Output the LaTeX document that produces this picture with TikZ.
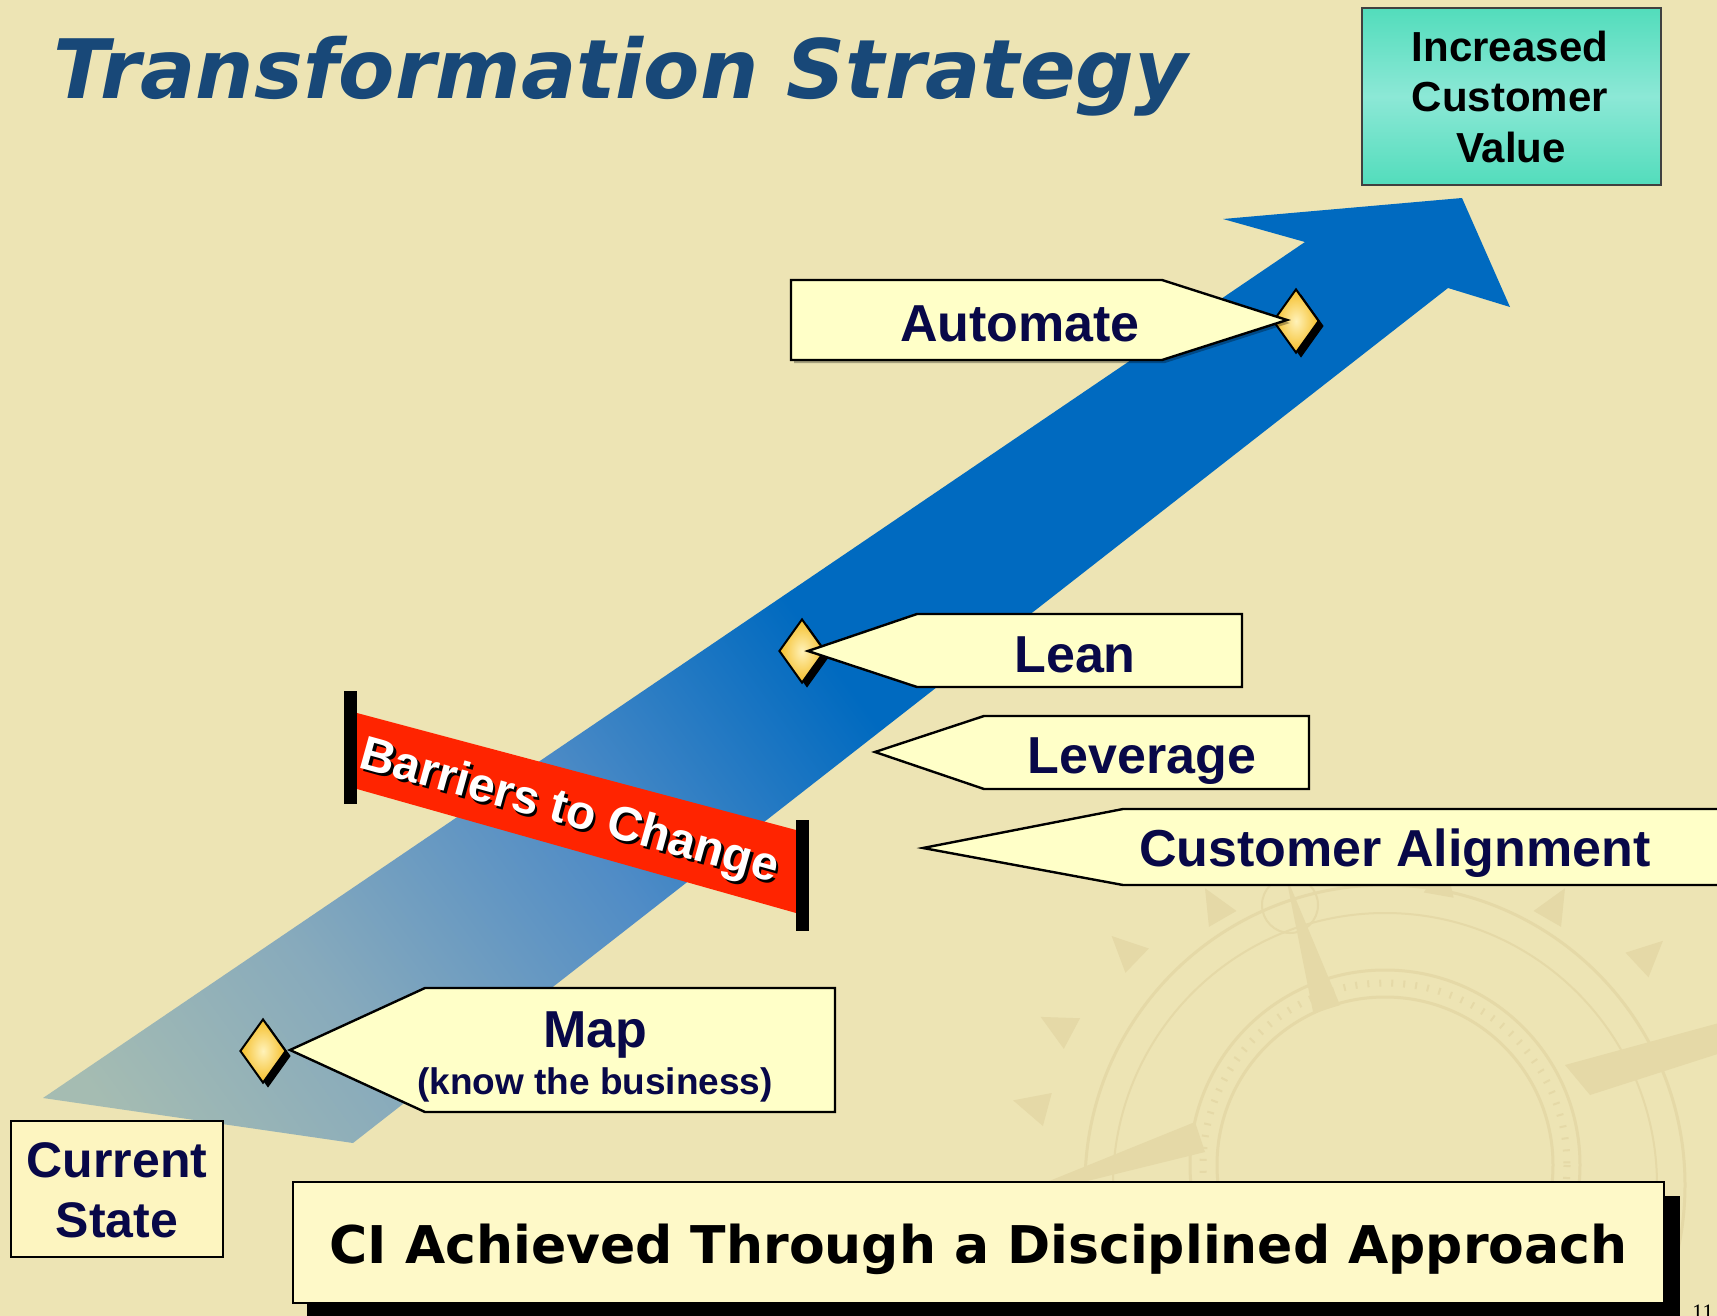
\documentclass[tikz,border=0pt]{standalone}
\usepackage{fontspec}
\setmainfont{Liberation Sans}
\newfontfamily\dejavu{DejaVu Sans}
\newfontfamily\libserif{Liberation Serif}
\usetikzlibrary{shapes.geometric,shadows}

\definecolor{bg}{RGB}{237,228,180}
\definecolor{compass}{RGB}{229,217,167}
\definecolor{navy}{RGB}{8,8,72}
\definecolor{titleblue}{RGB}{24,72,120}
\definecolor{callfill}{RGB}{255,255,200}
\definecolor{csfill}{RGB}{253,245,192}
\definecolor{cifill}{RGB}{254,249,200}
\definecolor{arrowblue}{RGB}{0,106,192}
\definecolor{shA}{RGB}{165,188,178}
\definecolor{shB}{RGB}{135,170,188}
\definecolor{shC}{RGB}{80,140,198}
\definecolor{barred}{RGB}{255,36,0}
\definecolor{tealdark}{RGB}{0,204,150}
\definecolor{teallight}{RGB}{140,232,214}
\definecolor{dmdark}{RGB}{245,190,40}
\definecolor{dmlight}{RGB}{255,242,185}

\pgfdeclareverticalshading{arrowshade}{100bp}{color(0bp)=(shA); color(18bp)=(shA); color(28bp)=(shB); color(40bp)=(shC); color(52bp)=(arrowblue); color(100bp)=(arrowblue)}
\pgfdeclareverticalshading{tealshade}{100bp}{color(0bp)=(tealdark); color(31bp)=(tealdark); color(50bp)=(teallight); color(69bp)=(tealdark); color(100bp)=(tealdark)}

\tikzset{
  callout/.style={fill=callfill, draw=black, line width=2.4pt, line join=miter},
  calloutshadow/.style={fill=black, opacity=0.3},
  lbl/.style={font=\fontsize{#1}{#1}\selectfont\bfseries, text=navy, inner sep=0pt, anchor=base},
  dmd/.style={diamond, minimum width=46pt, minimum height=64pt, inner sep=0pt,
    draw=black, line width=2pt, inner color=dmlight, outer color=dmdark,
    drop shadow={shadow xshift=5pt, shadow yshift=-5pt, fill=black, opacity=1}},
  boxnode/.style={draw=black, line width=2.4pt, inner sep=0pt},
  spike/.style={fill=compass},
}

\begin{document}
\begin{tikzpicture}[x=1pt,y=-1pt]
\useasboundingbox (0,0) rectangle (1717,1316);
\fill[bg] (0,0) rectangle (1717,1316);

% faint compass rose in the background
\begin{scope}[draw=compass]
  \draw[line width=3pt] (1385,1165) circle[radius=168];
  \draw[line width=3pt] (1385,1165) circle[radius=195];
  \draw[line width=7pt, dash pattern=on 2pt off 10pt] (1385,1165) circle[radius=182];
  \draw[line width=2pt] (1385,1185) circle[radius=272];
  \draw[line width=3pt] (1385,1185) circle[radius=300];
  \draw[line width=2pt] (1290,905) circle[radius=28];
\end{scope}
\begin{scope}[shift={(1385,1200)}]
  \foreach \a/\r in {43/345,60/325,80/310,120/325,136/345,152/355,165/350}{
    \fill[spike] (-\a:\r+35) -- (-\a-2.8:\r) -- (-\a+2.8:\r) -- cycle;
  }
  \fill[spike] (-107:340) -- (-103:200) -- (-111:200) -- cycle;
\end{scope}
\fill[compass] (1195,1122) -- (1205,1152) -- (990,1205) -- cycle;
\fill[compass] (1565,1065) -- (1590,1095) -- (1730,1050) -- (1730,1020) -- cycle;

% the big arrow
\shade[shading=arrowshade, shading angle=-54]
  (43,1098) -- (1305,242) -- (1223,219) -- (1462,198) -- (1510,307) -- (1448,288) -- (353,1143) -- cycle;

% milestone diamonds
\node[dmd] (dAuto) at (1296,321) {};
\node[dmd] (dLean) at (802,651) {};
\node[dmd] (dMap) at (263,1051) {};

% callouts
\coordinate (pAuto) at (1287,320);
\coordinate (pLean) at (808,651);
\coordinate (pLev) at (875,752);
\coordinate (pCust) at (923,848);
\coordinate (pMap) at (290,1050);

\fill[calloutshadow] (794,283) -- (1165,283) -- (1290,323) -- (1165,363) -- (794,363) -- cycle;
\draw[callout] (791,280) -- (1162,280) -- (pAuto) -- (1162,360) -- (791,360) -- cycle;
\draw[callout] (1242,614) -- (917,614) -- (pLean) -- (917,687) -- (1242,687) -- cycle;
\draw[callout] (1309,716) -- (984,716) -- (pLev) -- (984,789) -- (1309,789) -- cycle;
\draw[callout] (1730,809) -- (1123,809) -- (pCust) -- (1123,885) -- (1730,885) -- cycle;
\draw[callout] (835,988) -- (425,988) -- (pMap) -- (425,1112) -- (835,1112) -- cycle;

\node[lbl=52] (tAuto) at (1020,341) {Automate};
\node[lbl=52] (tLean) at (1075,672) {Lean};
\node[lbl=52] (tLev) at (1142,773) {Leverage};
\node[lbl=52] (tCust) at (1395,866) {Customer Alignment};
\node[lbl=52] (tMap) at (595,1047) {Map};
\node[lbl=37] (tMap2) at (595,1094) {(know the business)};

% barriers to change
\fill[barred] (357,713) -- (796,830) -- (796,913) -- (357,789) -- cycle;
\fill[black] (344,691) rectangle (357,804);
\fill[black] (796,820) rectangle (809,931);
\node[font=\fontsize{48}{48}\selectfont\bfseries, text=black, inner sep=0pt, rotate=-15.5] (bShadow) at (571.5,816) {Barriers to Change};
\node[font=\fontsize{48}{48}\selectfont\bfseries, text=white, inner sep=0pt, rotate=-15.5] (bText) at (569,813) {Barriers to Change};

% current state
\node[boxnode, fill=csfill, minimum width=212pt, minimum height=136pt] (csBox) at (117,1189) {};
\node[lbl=50] (tCur) at (117,1177) {Current};
\node[lbl=50] (tState) at (117,1237) {State};

% increased customer value
\node[inner sep=0pt, minimum width=299pt, minimum height=177pt] (icvBox) at (1511.5,96.5) {};
\begin{scope}
  \clip (icvBox.north west) rectangle (icvBox.south east);
  \shade[shading=tealshade, rotate around={-45:(icvBox.center)}]
    ([shift={(-200,-200)}]icvBox.center) rectangle ([shift={(200,200)}]icvBox.center);
\end{scope}
\draw[draw=black!75, line width=2pt] (icvBox.north west) rectangle (icvBox.south east);
\node[lbl=42, text=black] (tInc) at (1510,62) {Increased};
\node[lbl=42, text=black] (tCus) at (1510,112) {Customer};
\node[lbl=42, text=black] (tVal) at (1511,163) {Value};

% bottom banner
\fill[black] (307,1196) rectangle (1680,1330);
\node[boxnode, fill=cifill, minimum width=1371pt, minimum height=121pt] (ciBox) at (978.5,1242.5) {};
\node[font=\dejavu\bfseries\fontsize{52}{52}\selectfont, text=black, inner sep=0pt, anchor=base] (tCI) at (978.5,1263) {CI Achieved Through a Disciplined Approach};

% title
\node[font=\dejavu\bfseries\itshape\fontsize{82}{82}\selectfont, text=titleblue, inner sep=0pt, anchor=base west] (title) at (53,99) {Transformation Strategy};

% page number
\node[font=\libserif\fontsize{22}{22}\selectfont, inner sep=0pt, anchor=north west] (pg) at (1692,1305) {11};
\end{tikzpicture}
\end{document}
